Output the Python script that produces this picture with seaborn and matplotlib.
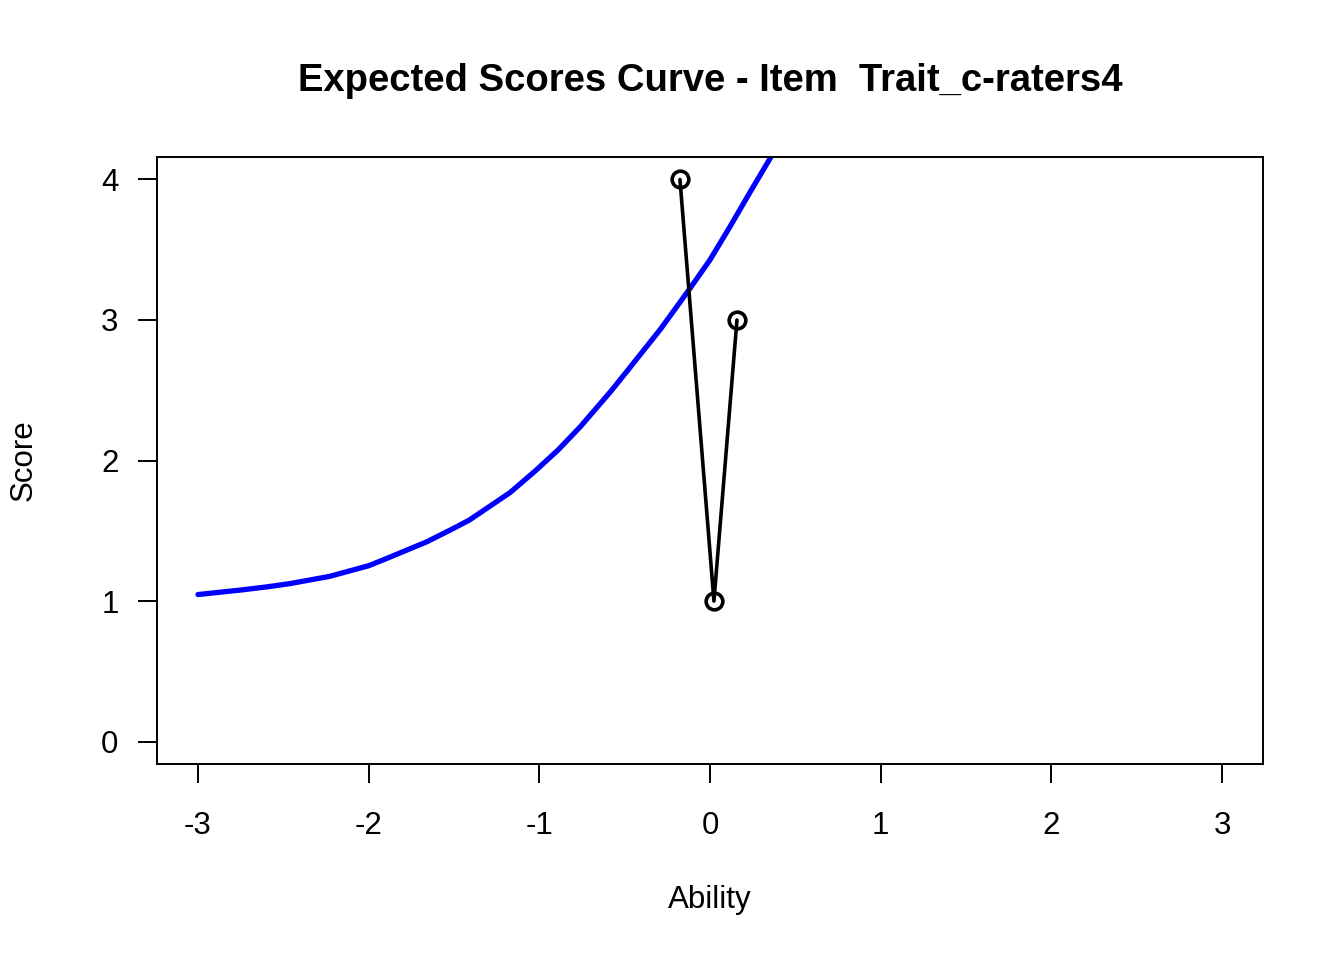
import matplotlib
matplotlib.use('Agg')
import matplotlib.pyplot as plt
import seaborn as sns
import pandas as pd

# Curva de escore esperado
ability = [-3.0, -2.75, -2.6, -2.46, -2.23, -2.0, -1.9, -1.66, -1.53, -1.41,
           -1.17, -1.02, -0.89, -0.76, -0.58, -0.49, -0.29, -0.12, 0.0, 0.12,
           0.23, 0.35, 0.40]
expected = [1.046, 1.078, 1.10, 1.124, 1.175, 1.251, 1.30, 1.421, 1.50, 1.576,
            1.773, 1.93, 2.075, 2.24, 2.494, 2.63, 2.935, 3.22, 3.428, 3.67,
            3.90, 4.146, 4.251]

# Escores observados
obs_ability = [-0.176, 0.023, 0.158]
obs_score = [4, 1, 3]

xticks = [-3, -2, -1, 0, 1, 2, 3]
yticks = [0, 1, 2, 3, 4]

sns.set_style('white')
plt.rcParams['font.family'] = ['Liberation Sans', 'DejaVu Sans']
plt.rcParams['text.color'] = 'black'

curve = pd.DataFrame({'Ability': ability, 'Score': expected})
obs = pd.DataFrame({'Ability': obs_ability, 'Score': obs_score})

fig = plt.figure(figsize=(13.44, 9.6), dpi=100)
ax = fig.add_axes([157/1344, 1 - 764/960, (1263 - 157)/1344, (764 - 157)/960])

sns.lineplot(data=curve, x='Ability', y='Score', ax=ax, color='#0000ff',
             linewidth=3.8, sort=False, estimator=None,
             solid_joinstyle='round', solid_capstyle='round')
sns.lineplot(data=obs, x='Ability', y='Score', ax=ax, color='black',
             linewidth=2.6, sort=False, estimator=None, marker='o',
             markersize=12, markerfacecolor='none', markeredgecolor='black',
             markeredgewidth=2.6)

ax.set_xlim(-3.24, 3.24)
ax.set_ylim(-0.16, 4.16)
ax.set_xticks(xticks)
ax.set_yticks(yticks)
ax.set_xticklabels([str(t) for t in xticks])
ax.set_yticklabels([str(t) for t in yticks])
ax.set_xlabel('')
ax.set_ylabel('')
for s in ax.spines.values():
    s.set_color('black')
    s.set_linewidth(1.4)
ax.tick_params(axis='x', direction='out', length=13.7, width=1.4, pad=20,
               labelsize=22.5, colors='black', bottom=True)
ax.tick_params(axis='y', direction='out', length=13.7, width=1.4, pad=14,
               labelsize=22.5, colors='black', left=True)

fig.text(710/1344, 1 - 81/960, 'Expected Scores Curve - Item  Trait_c-raters4',
         ha='center', va='center', fontsize=27.5, fontweight='bold', color='black')
fig.text(710/1344, 1 - 900/960, 'Ability', ha='center', va='center',
         fontsize=22.5, color='black')
fig.text(24/1344, 1 - 460/960, 'Score', ha='center', va='center',
         fontsize=22.5, rotation=90, color='black')

plt.savefig('out.png', dpi=100)
